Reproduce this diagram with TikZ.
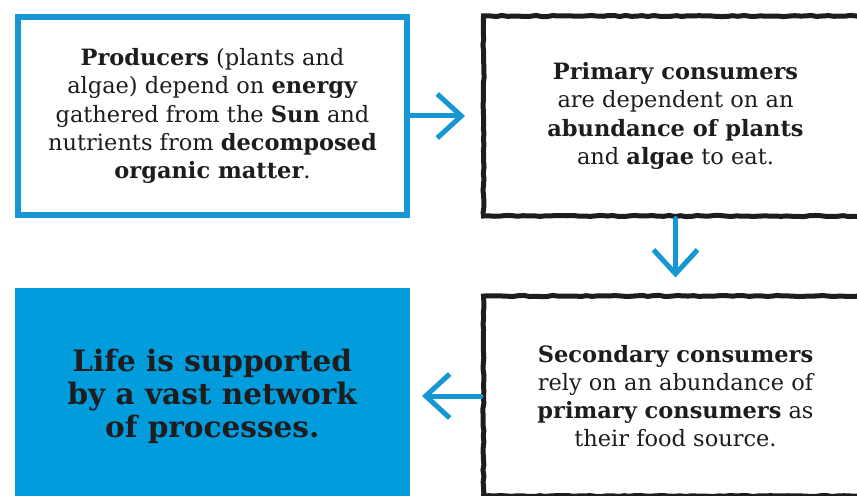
\documentclass[tikz,border=0pt]{standalone}
\usepackage{fontspec}
\setmainfont{DejaVu Serif}
\usetikzlibrary{positioning,arrows.meta,decorations.pathmorphing}
\usepackage{xcolor}
\definecolor{FlowBlue}{RGB}{22,150,210}
\definecolor{FillBlue}{RGB}{0,156,220}
\definecolor{InkBlack}{RGB}{30,28,29}

\begin{document}
\begin{tikzpicture}[
node distance=1.775cm,
bluebox/.style={rectangle,draw=FlowBlue,line width=1.5mm,fill=white,
minimum width=9.725cm,minimum height=4.95cm,align=center,text=InkBlack,
font=\fontsize{16}{20}\selectfont},
inkbox/.style={rectangle,draw=InkBlack,line width=1.25mm,
minimum width=9.6cm,minimum height=5cm,align=center,text=InkBlack,
font=\fontsize{16}{20}\selectfont,
decorate,decoration={random steps,segment length=4pt,amplitude=0.4pt}},
fillbox/.style={rectangle,fill=FillBlue,minimum width=9.875cm,minimum height=5.4cm,
align=center,text=InkBlack,font=\bfseries\fontsize{21}{23.5}\selectfont},
arrow/.style={-{Straight Barb[length=6mm,width=11mm]},line width=1.25mm,
draw=FlowBlue,line cap=round,line join=round}
]
\pgfmathsetseed{7}
\clip (0,0) rectangle (21.425,12.375);
\node[bluebox] (prod) at (5.3125,9.475) {\textbf{Producers} (plants and\\
algae) depend on \textbf{energy}\\ gathered from the \textbf{Sun} and\\
nutrients from \textbf{decomposed}\\ \textbf{organic matter}.};
\node[inkbox,right=1.775cm of prod] (prim) {\textbf{Primary consumers}\\
are dependent on an\\ \textbf{abundance of plants}\\ and \textbf{algae} to eat.};
\node[inkbox,below=1.875cm of prim] (sec) {\textbf{Secondary consumers}\\
rely on an abundance of\\ \textbf{primary consumers} as\\ their food source.};
\node[fillbox,left=1.775cm of sec] (life) {Life is supported\\ by a vast network\\ of processes.};
\draw[arrow,shorten >=4mm] (prod.east) -- (prim.west);
\draw[arrow,shorten >=4mm] (prim.south) -- (sec.north);
\draw[arrow,shorten >=3mm] (sec.west) -- (life.east);
\end{tikzpicture}
\end{document}
